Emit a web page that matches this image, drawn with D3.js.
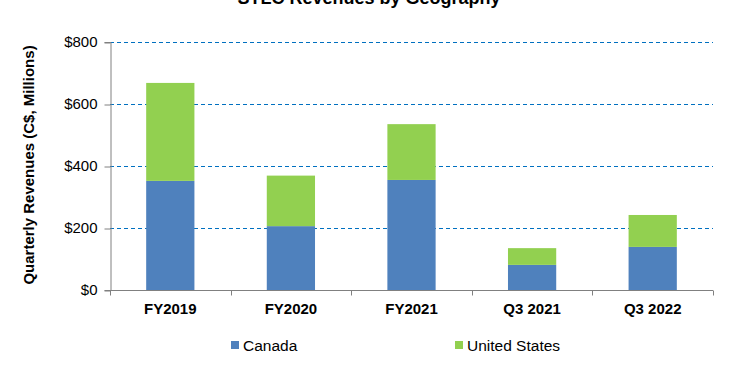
<!DOCTYPE html>
<html>
<head>
<meta charset="utf-8">
<script src="https://cdn.jsdelivr.net/npm/d3@7"></script>
<style>
  body { margin: 0; background: #fff; }
  svg { font-family: Arial, "Liberation Sans", sans-serif; }
</style>
</head>
<body>
<svg id="chart" width="729" height="375"></svg>
<script>
var categories = ['FY2019', 'FY2020', 'FY2021', 'Q3 2021', 'Q3 2022'];
var canada = [352, 206, 355, 81, 139];
var unitedStates = [316, 163, 180, 54, 103];
var yTicks = [0, 200, 400, 600, 800];
var seriesNames = ['Canada', 'United States'];
var colors = ['#4F81BD', '#92D050'];

var margin = { top: 42, right: 16, bottom: 85, left: 110 },
  width = 729 - margin.left - margin.right,
  height = 375 - margin.top - margin.bottom;

var data = categories.map(function (c, i) {
  return { cat: c, Canada: canada[i], 'United States': unitedStates[i] };
});

var svg = d3.select('#chart');

// title (cropped at top in reference)
svg.append('text')
  .attr('x', 369)
  .attr('y', 4)
  .attr('text-anchor', 'middle')
  .style('font-size', '18px')
  .style('font-weight', 'bold')
  .text('STLC Revenues by Geography');

var g = svg.append('g')
  .attr('transform', 'translate(' + margin.left + ',' + margin.top + ')');

var x = d3.scaleBand().domain(categories).range([0, width]).paddingInner(0.6).paddingOuter(0.3);
var xTickScale = d3.scaleLinear().domain([0, categories.length]).range([0, width]);
var y = d3.scaleLinear().domain([0, 800]).range([height, 0]);

// gridlines
g.selectAll('.grid')
  .data(yTicks.filter(function (d) { return d > 0; }))
  .enter().append('line')
  .attr('x1', 0)
  .attr('x2', width)
  .attr('y1', function (d) { return Math.round(y(d)) + 0.5; })
  .attr('y2', function (d) { return Math.round(y(d)) + 0.5; })
  .attr('stroke', '#0070C0')
  .attr('stroke-width', 1)
  .attr('stroke-dasharray', '4,3');

// stacked bars
var stack = d3.stack().keys(seriesNames)(data);
g.selectAll('.series')
  .data(stack)
  .enter().append('g')
  .attr('fill', function (d, i) { return colors[i]; })
  .selectAll('rect')
  .data(function (d) { return d; })
  .enter().append('rect')
  .attr('x', function (d) { return x(d.data.cat); })
  .attr('width', x.bandwidth())
  .attr('y', function (d) { return y(d[1]); })
  .attr('height', function (d) { return y(d[0]) - y(d[1]); });

// y axis
var yAxis = g.append('g')
  .attr('transform', 'translate(0.5,0)')
  .call(d3.axisLeft(y).tickValues(yTicks).tickSize(6).tickFormat(function (d) { return '$' + d; }));
yAxis.select('.domain').attr('stroke', '#808080');
yAxis.selectAll('.tick line').attr('stroke', '#808080').attr('transform', 'translate(0,0.5)');
yAxis.selectAll('text')
  .attr('x', -13)
  .attr('fill', '#000')
  .style('font-size', '15px');

// x axis
var xAxis = g.append('g')
  .attr('transform', 'translate(0,' + (height + 0.5) + ')');
xAxis.append('line')
  .attr('x1', 0).attr('x2', width)
  .attr('stroke', '#808080');
xAxis.selectAll('.xtick')
  .data(d3.range(categories.length + 1))
  .enter().append('line')
  .attr('x1', function (d) { return Math.round(xTickScale(d)) + 0.5; })
  .attr('x2', function (d) { return Math.round(xTickScale(d)) + 0.5; })
  .attr('y1', 0).attr('y2', 5)
  .attr('stroke', '#808080');
xAxis.selectAll('.xlabel')
  .data(categories)
  .enter().append('text')
  .attr('x', function (d) { return x(d) + x.bandwidth() / 2; })
  .attr('y', 23)
  .attr('text-anchor', 'middle')
  .style('font-size', '15px')
  .style('font-weight', 'bold')
  .text(function (d) { return d; });

// y axis title
svg.append('text')
  .attr('transform', 'translate(34,' + (margin.top + height / 2 - 1) + ') rotate(-90)')
  .attr('text-anchor', 'middle')
  .style('font-size', '15px')
  .style('font-weight', 'bold')
  .text('Quarterly Revenues (C$, Millions)');

// legend
var legendX = [231, 455];
var legend = svg.selectAll('.legend')
  .data(seriesNames)
  .enter().append('g')
  .attr('transform', function (d, i) { return 'translate(' + legendX[i] + ',341)'; });
legend.append('rect')
  .attr('width', 8).attr('height', 8)
  .attr('fill', function (d, i) { return colors[i]; });
legend.append('text')
  .attr('x', 12)
  .attr('y', 9.5)
  .style('font-size', '15.5px')
  .text(function (d) { return d; });
</script>
</body>
</html>
